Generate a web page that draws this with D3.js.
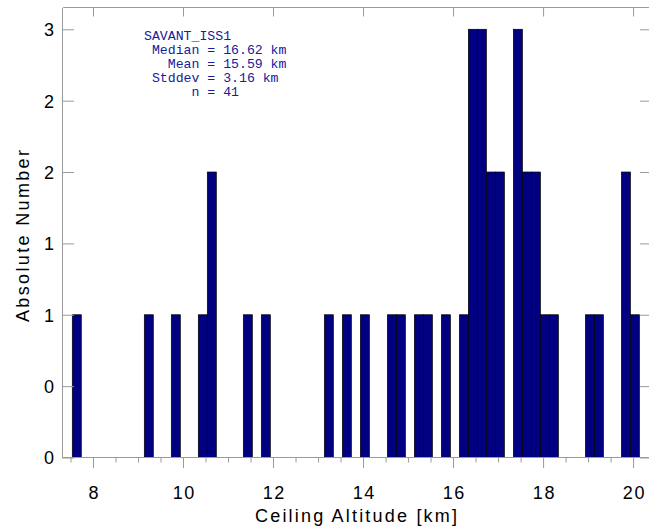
<!DOCTYPE html>
<html><head><meta charset="utf-8">
<script src="https://cdn.jsdelivr.net/npm/d3@7"></script>
<style>body{margin:0;background:#fff}svg{display:block}</style>
</head><body>
<svg id="c" width="649" height="529"></svg>
<script>
// ---- data ----
const binStarts = [7.54, 9.14, 9.74, 10.34, 10.54, 11.34, 11.74, 13.14, 13.54, 13.94,
                   14.54, 14.74, 15.14, 15.34, 15.74, 16.14, 16.34, 16.54, 16.74, 16.94,
                   17.34, 17.54, 17.74, 17.94, 18.14, 18.94, 19.14, 19.74, 19.94];
const counts    = [1, 1, 1, 1, 2, 1, 1, 1, 1, 1,
                   1, 1, 1, 1, 1, 1, 3, 3, 2, 2,
                   3, 2, 2, 1, 1, 1, 1, 2, 1];
const binWidth = 0.2;
const xMajorTicks = [8, 10, 12, 14, 16, 18, 20];
const xTickLabels = ["8", "10", "12", "14", "16", "18", "20"];
const xMinorTicks = [7.5, 8.5, 9, 9.5, 10.5, 11, 11.5, 12.5, 13, 13.5, 14.5, 15, 15.5, 16.5, 17, 17.5, 18.5, 19, 19.5];
const yTicks = [0, 0.5, 1, 1.5, 2, 2.5, 3];
const yTickLabels = ["0", "0", "1", "1", "2", "2", "3"];
const statsLines = ["SAVANT_ISS1", " Median = 16.62 km", "   Mean = 15.59 km", " Stddev = 3.16 km", "      n = 41"];
const xTitle = "Ceiling Altitude [km]";
const yTitle = "Absolute Number";

// ---- layout ----
const svg = d3.select("#c");
const x = d3.scaleLinear().domain([7.327, 20.42]).range([62.7, 652]);
const y = d3.scaleLinear().domain([0, 3.154]).range([457.5, 7.3]);
const axisColor = "#9a9a9a";
const barColor = "#000080";
const labelFont = "'Liberation Sans', Arial, Helvetica, sans-serif";

// bars
const bars = binStarts.map((s, i) => ({s, c: counts[i]}));
svg.append("g").selectAll("rect").data(bars).join("rect")
  .attr("x", d => x(d.s))
  .attr("width", d => x(d.s + binWidth) - x(d.s))
  .attr("y", d => y(d.c))
  .attr("height", d => y(0) - y(d.c))
  .attr("fill", barColor)
  .attr("stroke", "#000")
  .attr("stroke-width", 0.7);

function styleAxis(g) {
  g.selectAll("path.domain").attr("stroke", axisColor).attr("stroke-width", 1);
  g.selectAll(".tick line").attr("stroke", axisColor).attr("stroke-width", 1);
}

// bottom axis major
const gb = svg.append("g").attr("transform", "translate(0,457)")
  .call(d3.axisBottom(x).tickValues(xMajorTicks).tickSize(11).tickSizeOuter(0)
        .tickFormat((d, i) => xTickLabels[i]));
styleAxis(gb);
gb.selectAll(".tick text")
  .attr("y", 41.5).attr("dy", null).attr("dx", 0.8)
  .attr("fill", "#000")
  .style("font-family", labelFont).style("font-size", "18px").style("letter-spacing", "1.6px");
// bottom minor
const gbm = svg.append("g").attr("transform", "translate(0,457)")
  .call(d3.axisBottom(x).tickValues(xMinorTicks).tickSize(5.5).tickFormat(""));
gbm.select("path.domain").remove();
styleAxis(gbm);

// top axis
const gt = svg.append("g").attr("transform", "translate(0,7)")
  .call(d3.axisTop(x).tickValues(xMajorTicks).tickSize(-9.5).tickSizeOuter(0).tickFormat(""));
styleAxis(gt);

// left axis
const gl = svg.append("g").attr("transform", "translate(62,0)")
  .call(d3.axisLeft(y).tickValues(yTicks).tickSize(-12).tickSizeOuter(0)
        .tickFormat((d, i) => yTickLabels[i]));
styleAxis(gl);
gl.selectAll(".tick text")
  .attr("x", -6.5).attr("dy", "0.36em")
  .attr("fill", "#000")
  .style("font-family", labelFont).style("font-size", "18px").style("letter-spacing", "1.6px");

// right axis
const gr = svg.append("g").attr("transform", "translate(652,0)")
  .call(d3.axisRight(y).tickValues(yTicks).tickSize(-12).tickSizeOuter(0).tickFormat(""));
styleAxis(gr);

// axis titles
svg.append("text")
  .attr("x", 356).attr("y", 521.5)
  .attr("text-anchor", "middle")
  .attr("textLength", 202).attr("lengthAdjust", "spacing")
  .style("font-family", labelFont).style("font-size", "18px")
  .attr("fill", "#000")
  .text(xTitle);

svg.append("text")
  .attr("transform", "translate(29,236) rotate(-90)")
  .attr("text-anchor", "middle")
  .attr("textLength", 172).attr("lengthAdjust", "spacing")
  .style("font-family", labelFont).style("font-size", "18px")
  .attr("fill", "#000")
  .text(yTitle);

// stats annotation
svg.append("g").selectAll("text").data(statsLines).join("text")
  .attr("x", 144)
  .attr("y", (d, i) => 39.5 + i * 14)
  .attr("fill", "#16209a")
  .style("font-family", "'Liberation Mono', 'Courier New', monospace")
  .style("font-size", "13.2px")
  .style("white-space", "pre")
  .attr("xml:space", "preserve")
  .text(d => d);
</script>
</body></html>
